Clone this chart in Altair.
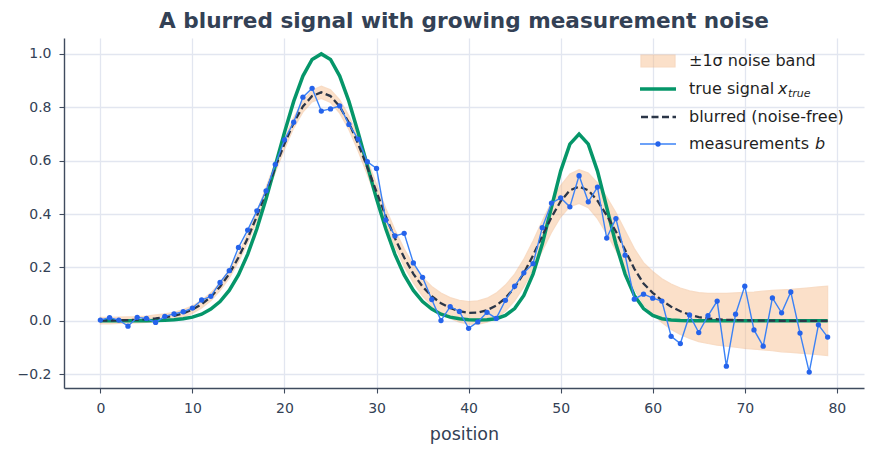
import altair as alt
import pandas as pd

positions = list(range(80))

x_true = [0.000, 0.000, 0.000, 0.000, 0.000, 0.000, 0.001, 0.002, 0.004, 0.008,
          0.014, 0.025, 0.044, 0.072, 0.114, 0.172, 0.249, 0.345, 0.457, 0.581,
          0.706, 0.822, 0.917, 0.979, 1.000, 0.979, 0.917, 0.822, 0.706, 0.581,
          0.457, 0.345, 0.249, 0.172, 0.114, 0.072, 0.044, 0.025, 0.014, 0.008,
          0.004, 0.003, 0.004, 0.008, 0.020, 0.046, 0.095, 0.175, 0.288, 0.425,
          0.561, 0.662, 0.700, 0.662, 0.561, 0.425, 0.288, 0.175, 0.095, 0.046,
          0.020, 0.008, 0.003, 0.001, 0.000, 0.000, 0.000, 0.000, 0.000, 0.000,
          0.000, 0.000, 0.000, 0.000, 0.000, 0.000, 0.000, 0.000, 0.000, 0.000]

blurred = [0.001, 0.001, 0.002, 0.003, 0.004, 0.006, 0.009, 0.013, 0.019, 0.028,
           0.042, 0.062, 0.090, 0.128, 0.176, 0.237, 0.309, 0.392, 0.483, 0.575,
           0.663, 0.742, 0.803, 0.842, 0.856, 0.842, 0.803, 0.742, 0.663, 0.575,
           0.483, 0.392, 0.309, 0.237, 0.176, 0.128, 0.092, 0.066, 0.048, 0.036,
           0.030, 0.031, 0.040, 0.057, 0.085, 0.125, 0.179, 0.245, 0.318, 0.388,
           0.448, 0.489, 0.503, 0.489, 0.450, 0.395, 0.335, 0.265, 0.195, 0.140,
           0.105, 0.076, 0.053, 0.036, 0.023, 0.014, 0.009, 0.006, 0.004, 0.003,
           0.002, 0.001, 0.001, 0.001, 0.000, 0.000, 0.000, 0.000, 0.000, 0.000]

noise_sigma = [0.012, 0.012, 0.012, 0.012, 0.012, 0.012, 0.013, 0.013, 0.013, 0.014,
               0.014, 0.014, 0.015, 0.015, 0.016, 0.016, 0.017, 0.017, 0.018, 0.019,
               0.020, 0.020, 0.021, 0.022, 0.023, 0.024, 0.025, 0.026, 0.027, 0.028,
               0.029, 0.030, 0.031, 0.033, 0.034, 0.035, 0.037, 0.038, 0.039, 0.041,
               0.042, 0.044, 0.045, 0.047, 0.049, 0.050, 0.052, 0.054, 0.056, 0.057,
               0.059, 0.061, 0.063, 0.065, 0.067, 0.069, 0.071, 0.073, 0.076, 0.078,
               0.080, 0.082, 0.085, 0.087, 0.089, 0.092, 0.094, 0.097, 0.099, 0.102,
               0.105, 0.107, 0.110, 0.113, 0.116, 0.118, 0.121, 0.124, 0.127, 0.130]

measured = [0.003, 0.012, 0.003, -0.020, 0.013, 0.009, -0.006, 0.017, 0.026, 0.034,
            0.048, 0.078, 0.092, 0.144, 0.188, 0.275, 0.340, 0.412, 0.487, 0.586,
            0.678, 0.744, 0.838, 0.871, 0.786, 0.794, 0.805, 0.736, 0.681, 0.596,
            0.571, 0.378, 0.318, 0.328, 0.217, 0.163, 0.080, 0.001, 0.053, 0.035,
            -0.028, -0.004, 0.032, 0.009, 0.077, 0.130, 0.180, 0.214, 0.349, 0.441,
            0.461, 0.427, 0.544, 0.446, 0.501, 0.310, 0.383, 0.246, 0.081, 0.100,
            0.085, 0.074, -0.058, -0.085, 0.022, -0.044, 0.019, 0.074, -0.170, 0.025,
            0.130, -0.034, -0.095, 0.086, 0.030, 0.108, -0.046, -0.192, -0.015, -0.061]

x_ticks = [0, 10, 20, 30, 40, 50, 60, 70, 80]
y_ticks = [-0.2, 0.0, 0.2, 0.4, 0.6, 0.8, 1.0]

legend_labels = ["\u00b11\u03c3 noise band", "true signal", "blurred (noise-free)", "measurements"]

df = pd.DataFrame({
    "pos": positions,
    "true": x_true,
    "blurred": blurred,
    "meas": measured,
    "lower": [b - s for b, s in zip(blurred, noise_sigma)],
    "upper": [b + s for b, s in zip(blurred, noise_sigma)],
})

FONT = "DejaVu Sans"
SLATE = "#334155"
GRID = "#e2e6f0"
BAND = "#f7bc88"
BAND_EDGE = "#f0ad78"
DASH = "#2b3648"

xscale = alt.Scale(domain=[-3.95, 82.95], nice=False, zero=False)
yscale = alt.Scale(domain=[-0.2516, 1.0596], nice=False, zero=False)

xaxis = alt.Axis(values=x_ticks, title="position", grid=True, format="d")
yaxis = alt.Axis(values=y_ticks, title="", grid=True, format=".1f")


def X():
    return alt.X("pos:Q", scale=xscale, axis=xaxis, title="position")


def Y(field):
    return alt.Y(field, scale=yscale, axis=yaxis, title="")


base = alt.Chart(df)

band = base.mark_area(color=BAND, opacity=0.45, stroke=BAND_EDGE, strokeWidth=1.2, strokeOpacity=0.9).encode(
    x=X(), y=Y("lower:Q"), y2="upper:Q",
)

true_line = base.mark_line(color="#059669", strokeWidth=3.5).encode(x=X(), y=Y("true:Q"))

blur_line = base.mark_line(color=DASH, strokeWidth=2.3, strokeDash=[7, 3.5]).encode(x=X(), y=Y("blurred:Q"))

meas_line = base.mark_line(color="#3b82f6", strokeWidth=1.4).encode(x=X(), y=Y("meas:Q"))

meas_pts = base.mark_circle(color="#2563eb", size=28, opacity=1).encode(x=X(), y=Y("meas:Q"))

# ---- custom legend (upper right) ----
one = pd.DataFrame({"k": [0]})
L0 = 576  # handle start in plot coords
L1 = 612
TX = 625
rows = [23, 51, 79, 106]
txt_color = "#1f1f1f"
fs = 16

leg = []
leg.append(alt.Chart(one).mark_rect(color=BAND, opacity=0.45, stroke=BAND_EDGE, strokeWidth=1.2).encode(
    x=alt.value(L0 + 1), x2=alt.value(L1 - 1), y=alt.value(rows[0] - 6), y2=alt.value(rows[0] + 6)))
leg.append(alt.Chart(one).mark_rule(color="#059669", strokeWidth=3.5).encode(
    x=alt.value(L0), x2=alt.value(L1), y=alt.value(rows[1])))
leg.append(alt.Chart(one).mark_rule(color=DASH, strokeWidth=2.3, strokeDash=[7, 3.5]).encode(
    x=alt.value(L0 + 1), x2=alt.value(L1), y=alt.value(rows[2])))
leg.append(alt.Chart(one).mark_rule(color="#3b82f6", strokeWidth=1.4).encode(
    x=alt.value(L0), x2=alt.value(L1), y=alt.value(rows[3])))
leg.append(alt.Chart(one).mark_circle(color="#2563eb", size=28, opacity=1).encode(
    x=alt.value((L0 + L1) / 2), y=alt.value(rows[3])))

for r, lab in zip(rows, legend_labels):
    leg.append(alt.Chart(one).mark_text(text=lab, align="left", baseline="middle", font=FONT,
                                        fontSize=fs, color=txt_color).encode(
        x=alt.value(TX), y=alt.value(r)))

# math-italic parts
leg.append(alt.Chart(one).mark_text(text="x", align="left", baseline="middle", font=FONT,
                                    fontSize=fs, fontStyle="italic", color=txt_color).encode(
    x=alt.value(TX + 89), y=alt.value(rows[1])))
leg.append(alt.Chart(one).mark_text(text="true", align="left", baseline="middle", font=FONT,
                                    fontSize=11, fontStyle="italic", color=txt_color).encode(
    x=alt.value(TX + 99), y=alt.value(rows[1] + 5)))
leg.append(alt.Chart(one).mark_text(text="b", align="left", baseline="middle", font=FONT,
                                    fontSize=fs, fontStyle="italic", color=txt_color).encode(
    x=alt.value(TX + 126), y=alt.value(rows[3])))

chart = alt.layer(band, true_line, blur_line, meas_line, meas_pts, *leg).properties(
    width=800,
    height=350,
    autosize=alt.AutoSizeParams(type="none"),
    padding={"left": 64, "top": 38, "right": 11, "bottom": 67},
    title=alt.TitleParams(
        text="A blurred signal with growing measurement noise",
        font=FONT, fontSize=21.6, fontWeight="bold", color=SLATE,
        anchor="middle", offset=5,
    ),
).configure_view(stroke=None).configure_axis(
    gridColor=GRID, gridWidth=1.3,
    domainColor="#3f4b5e", domainWidth=1.4,
    tickColor="#3f4b5e", tickSize=5, tickWidth=1.1,
    labelFont=FONT, labelFontSize=14, labelColor=SLATE,
    titleFont=FONT, titleFontSize=17.5, titleFontWeight="normal", titleColor=SLATE,
).configure_axisX(titlePadding=10, labelPadding=8).configure_axisY(labelPadding=8)

chart.save("out.html", embed_options={"renderer": "svg", "actions": False})
